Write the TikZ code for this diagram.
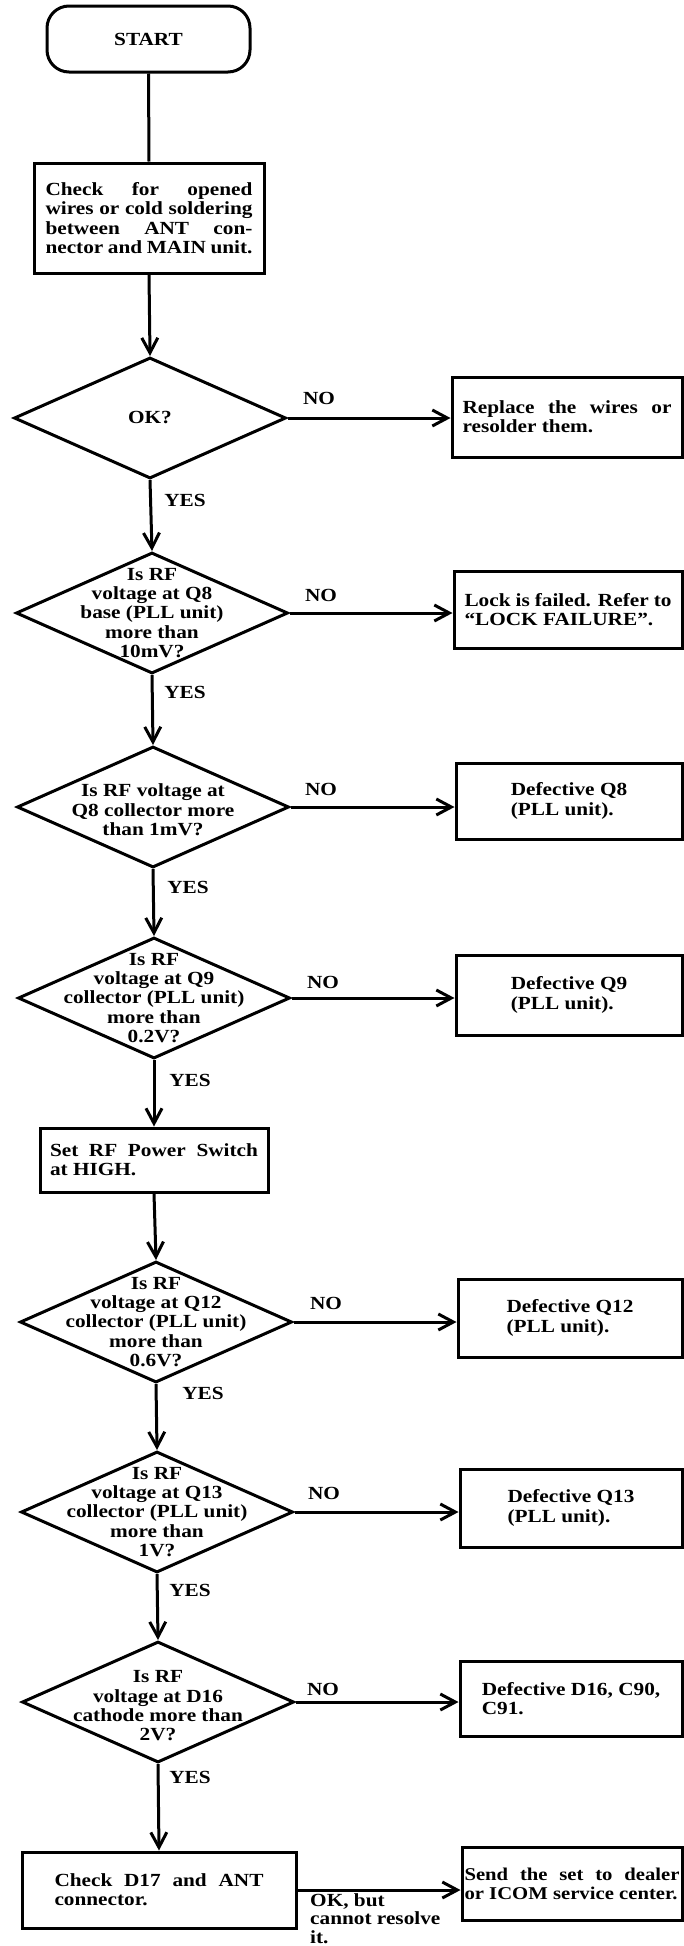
\documentclass[tikz,border=0pt]{standalone}
\usepackage{fontspec}
\setmainfont{Liberation Serif}[FakeStretch=1.15]
\usetikzlibrary{shapes.geometric,arrows.meta}
\newcommand{\flowfont}{\fontsize{18.5}{19.3}\selectfont\bfseries}
\tikzset{
  flowline/.style={line width=3pt},
  flowarrow/.style={line width=3pt, -{Straight Barb[length=15pt,width=16pt]}},
  startbox/.style={draw, line width=3pt, rounded corners=22pt, minimum width=203pt, minimum height=66pt, font=\flowfont},
  workbox/.style={draw, line width=3pt, inner sep=0pt, font=\flowfont},
  decision/.style={draw, diamond, line width=3pt, minimum width=272pt, minimum height=121pt, inner sep=0pt},
  asktext/.style={align=center, font=\flowfont, inner sep=0pt},
  answer/.style={font=\flowfont, inner sep=0pt}
}

\begin{document}
\begin{tikzpicture}[x=1pt, y=-1pt]
  \fill[white] (0,0) rectangle (684,1946);
  \useasboundingbox (0,0) rectangle (684,1946);
  \node[startbox] (start) at (148.5,39) {START};
  \node[workbox, minimum width=230pt, minimum height=110pt, text width=207pt, align=justify] (chkwire) at (149,218)
    {Check for opened\linebreak wires or cold soldering\linebreak between ANT con-\linebreak nector and MAIN unit.};
  \node[decision] (okq) at (150,418) {};
  \node[asktext] (okqtxt) at (okq) {OK?};
  \node[workbox, minimum width=230pt, minimum height=80pt, text width=209pt, align=justify] (replace) at (567,417)
    {Replace the wires or\linebreak resolder them.};
  \node[decision] (q8base) at (152,613) {};
  \node[asktext] (q8basetxt) at (q8base) {Is RF\\voltage at Q8\\base (PLL unit)\\more than\\10mV?};
  \node[workbox, minimum width=228pt, minimum height=77pt, text width=207pt, align=justify] (lockfail) at (568,609.5)
    {Lock is failed. Refer to\linebreak ``LOCK FAILURE''.};
  \node[decision] (q8coll) at (153,807) {};
  \node[asktext] (q8colltxt) at ([yshift=-3pt]q8coll.center) {Is RF voltage at\\Q8 collector more\\than 1mV?};
  \node[workbox, minimum width=226pt, minimum height=76pt, align=left] (defq8) at (569,801) {Defective Q8\\(PLL unit).};
  \node[decision] (q9coll) at (154,998) {};
  \node[asktext] (q9colltxt) at (q9coll) {Is RF\\voltage at Q9\\collector (PLL unit)\\more than\\0.2V?};
  \node[workbox, minimum width=226pt, minimum height=80pt, align=left] (defq9) at (569,995) {Defective Q9\\(PLL unit).};
  \node[workbox, minimum width=228pt, minimum height=64pt, text width=208pt, align=justify] (setrf) at (154,1160)
    {Set RF Power Switch\linebreak at HIGH.};
  \node[decision] (q12coll) at (156,1322) {};
  \node[asktext] (q12colltxt) at (q12coll) {Is RF\\voltage at Q12\\collector (PLL unit)\\more than\\0.6V?};
  \node[workbox, minimum width=224pt, minimum height=78pt, align=left] (defq12) at (570,1318) {Defective Q12\\(PLL unit).};
  \node[decision] (q13coll) at (157,1512) {};
  \node[asktext] (q13colltxt) at (q13coll) {Is RF\\voltage at Q13\\collector (PLL unit)\\more than\\1V?};
  \node[workbox, minimum width=222pt, minimum height=78pt, align=left] (defq13) at (571,1508) {Defective Q13\\(PLL unit).};
  \node[decision] (d16cath) at (158,1702) {};
  \node[asktext] (d16cathtxt) at ([yshift=-4pt]d16cath.center) {Is RF\\voltage at D16\\cathode more than\\2V?};
  \node[workbox, minimum width=222pt, minimum height=75pt, align=left] (defd16) at (571,1698.5) {Defective D16, C90,\\C91.};
  \node[workbox, minimum width=274pt, minimum height=76pt, text width=209pt, align=justify] (chkd17) at (159,1890)
    {Check D17 and ANT\linebreak connector.};
  \node[workbox, minimum width=220pt, minimum height=73pt, text width=215pt, align=justify, font=\fontsize{18}{19}\selectfont\bfseries] (sendset) at (572,1883.5)
    {Send the set to dealer\linebreak \mbox{or ICOM service center.}};
  \draw[flowline] (start.south) -- (chkwire.north);
  \draw[flowarrow] (chkwire.south) -- (okq.north);
  \draw[flowarrow] (okq.south) -- (q8base.north);
  \draw[flowarrow] (q8base.south) -- (q8coll.north);
  \draw[flowarrow] (q8coll.south) -- (q9coll.north);
  \draw[flowarrow] (q9coll.south) -- (setrf.north);
  \draw[flowarrow] (setrf.south) -- (q12coll.north);
  \draw[flowarrow] (q12coll.south) -- (q13coll.north);
  \draw[flowarrow] (q13coll.south) -- (d16cath.north);
  \draw[flowarrow] (d16cath.south) -- (chkd17.north);
  \draw[flowarrow] (okq.east) -- (okq.east -| replace.west);
  \draw[flowarrow] (q8base.east) -- (q8base.east -| lockfail.west);
  \draw[flowarrow] (q8coll.east) -- (q8coll.east -| defq8.west);
  \draw[flowarrow] (q9coll.east) -- (q9coll.east -| defq9.west);
  \draw[flowarrow] (q12coll.east) -- (q12coll.east -| defq12.west);
  \draw[flowarrow] (q13coll.east) -- (q13coll.east -| defq13.west);
  \draw[flowarrow] (d16cath.east) -- (d16cath.east -| defd16.west);
  \draw[flowarrow] (chkd17.east) -- (chkd17.east -| sendset.west);
  \node[answer] (yesok) at (185,500) {YES};
  \node[answer] (yesq8base) at (185,692) {YES};
  \node[answer] (yesq8coll) at (188,887) {YES};
  \node[answer] (yesq9coll) at (190,1080) {YES};
  \node[answer] (yesq12coll) at (203,1393) {YES};
  \node[answer] (yesq13coll) at (190,1590) {YES};
  \node[answer] (yesd16cath) at (190,1777) {YES};
  \node[answer] (nook) at (319,398) {NO};
  \node[answer] (noq8base) at (321,595) {NO};
  \node[answer] (noq8coll) at (321,789) {NO};
  \node[answer] (noq9coll) at (323,982) {NO};
  \node[answer] (noq12coll) at (326,1303) {NO};
  \node[answer] (noq13coll) at (324,1493) {NO};
  \node[answer] (nod16cath) at (323,1689) {NO};
  \node[answer, align=left, anchor=north west, font=\fontsize{18.5}{18.5}\selectfont\bfseries] (okbut) at (310,1893) {OK, but\\cannot resolve\\it.};
\end{tikzpicture}
\end{document}
